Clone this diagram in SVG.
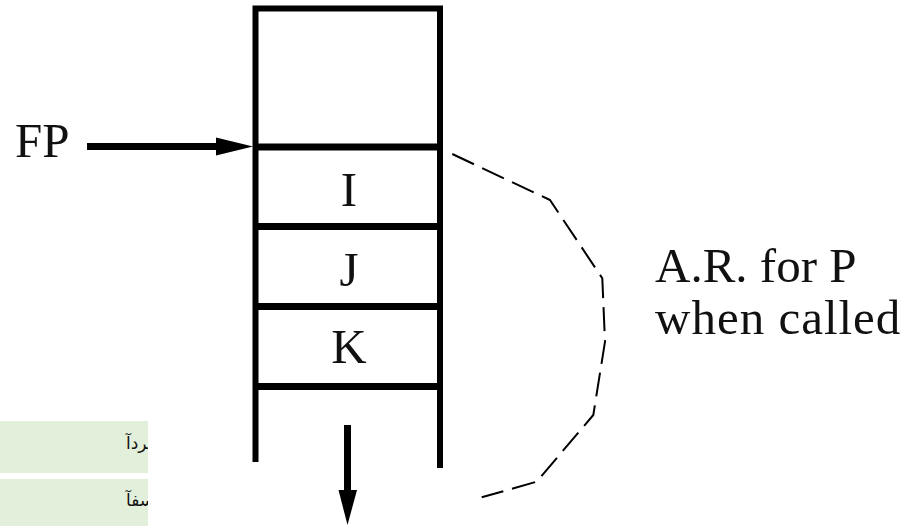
<svg xmlns="http://www.w3.org/2000/svg" width="914" height="526" viewBox="0 0 914 526">
  <style>
    .wall { stroke: #000; stroke-width: 6; fill: none; stroke-linecap: butt; }
    .bar { stroke: #000; stroke-width: 7; }
    .lbl { font-family: "Liberation Serif", "Times New Roman", serif; font-size: 49px; fill: #111; }
    .cell { text-anchor: middle; }
    .dash { stroke: #000; stroke-width: 2; fill: none; stroke-dasharray: 24 9; stroke-linejoin: round; }
    .note { fill: #e2efda; }
    .fa { font-family: "DejaVu Sans", "Noto Sans", sans-serif; font-size: 17px; fill: #111;
          direction: ltr; unicode-bidi: bidi-override; }
  </style>
  <defs>
    <clipPath id="noteClip1"><rect x="0" y="421" width="148" height="52"/></clipPath>
    <clipPath id="noteClip2"><rect x="0" y="479" width="148" height="47"/></clipPath>
  </defs>

  <rect width="914" height="526" fill="#fff"/>

  <!-- stack frame: walls and top -->
  <g id="stack">
    <path class="wall" d="M255.5 462 V8.5 H440 V468"/>
  </g>

  <!-- stack slots -->
  <g id="slot-top">
    <line class="bar" x1="253" y1="147" x2="443" y2="147"/>
  </g>
  <g id="slot-I">
    <text class="lbl cell" x="349" y="206">I</text>
    <line class="bar" x1="253" y1="226.5" x2="443" y2="226.5"/>
  </g>
  <g id="slot-J">
    <text class="lbl cell" x="349" y="286">J</text>
    <line class="bar" x1="253" y1="306.5" x2="443" y2="306.5"/>
  </g>
  <g id="slot-K">
    <text class="lbl cell" x="349" y="363">K</text>
    <line class="bar" x1="253" y1="386.5" x2="443" y2="386.5"/>
  </g>

  <!-- frame pointer label -->
  <g id="fp">
    <text class="lbl" x="15" y="157">FP</text>
  </g>

  <!-- activation record label -->
  <g id="ar-label">
    <text class="lbl" x="655" y="282">A.R. for P</text>
    <text class="lbl" x="655" y="334" letter-spacing="1">when called</text>
  </g>

  <!-- notes, cut off at the box edge -->
  <g id="note-1">
    <rect class="note" x="0" y="421" width="148" height="52"/>
    <text class="fa" x="126" y="449" clip-path="url(#noteClip1)">آدرس J ع</text>
  </g>
  <g id="note-2">
    <rect class="note" x="0" y="479" width="148" height="47"/>
    <text class="fa" x="126" y="506" clip-path="url(#noteClip2)">آفست برا</text>
  </g>

  <!-- connectors -->
  <g id="connectors">
    <line class="bar" x1="87" y1="146.5" x2="218" y2="146.5"/>
    <polygon points="216,137.5 253,146.5 216,155.5" fill="#000"/>
    <line class="bar" x1="347.5" y1="425" x2="347.5" y2="492"/>
    <polygon points="338.5,490 357,490 347.5,525" fill="#000"/>
    <polyline class="dash" points="452.3,154 550,200 602.3,278.3 605,341.7 593.3,415 536.7,481.7 481.7,497.3"/>
  </g>
</svg>
